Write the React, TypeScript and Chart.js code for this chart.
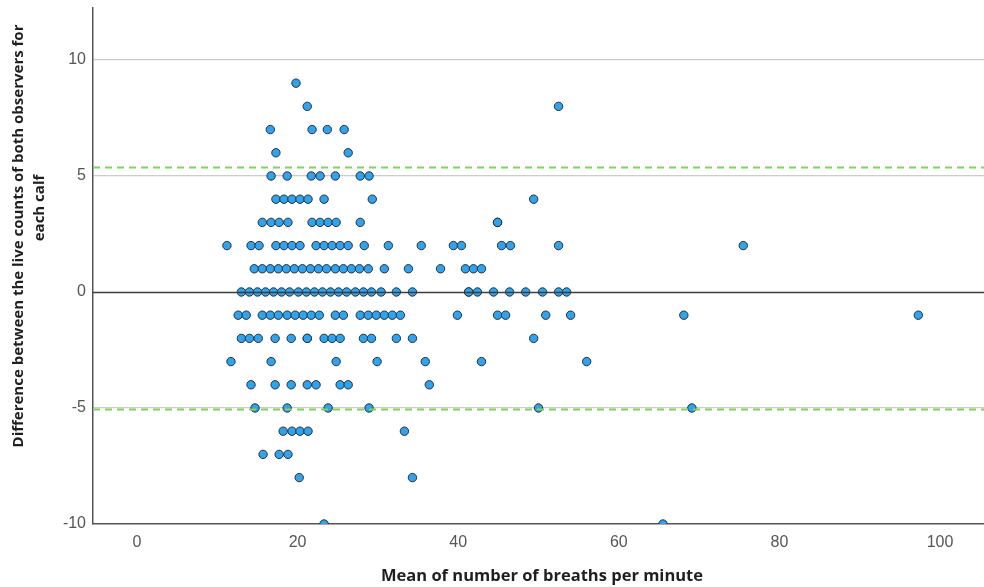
import { useEffect, useRef } from "react";
import { Chart, registerables } from "chart.js";

Chart.register(...registerables);

// Mean breaths per minute for each calf, grouped by the difference between the two observers' counts
const meansDiffPlus9 = [19.8];
const meansDiffPlus8 = [21.2, 52.5];
const meansDiffPlus7 = [16.6, 21.8, 23.7, 25.8];
const meansDiffPlus6 = [17.3, 26.3];
const meansDiffPlus5 = [16.7, 18.7, 21.7, 22.8, 24.7, 27.8, 28.9];
const meansDiffPlus4 = [17.3, 18.3, 19.3, 20.3, 21.3, 23.3, 29.3, 49.4];
const meansDiffPlus3 = [15.6, 16.7, 17.7, 18.8, 21.8, 22.8, 23.8, 24.8, 27.8, 44.9, 44.9];
const meansDiffPlus2 = [
  11.2, 14.2, 15.2, 17.3, 18.3, 19.3, 20.3, 22.3, 23.3, 24.3, 25.3, 26.3, 28.3, 31.3, 35.4, 39.4,
  40.4, 45.4, 46.5, 52.5, 75.5,
];
const meansDiffPlus1 = [
  14.6, 15.6, 16.6, 17.6, 18.6, 19.6, 20.6, 21.6, 22.6, 23.6, 24.7, 25.7, 26.7, 27.7, 28.8, 30.8,
  33.8, 37.8, 40.9, 41.9, 42.9,
];
const meansDiffZero = [
  13.0, 14.0, 15.0, 16.0, 17.0, 18.0, 19.0, 20.1, 21.1, 22.1, 23.1, 24.1, 25.1, 26.1, 27.2, 28.2,
  29.2, 30.4, 32.3, 34.3, 41.3, 41.3, 42.4, 44.4, 46.4, 48.4, 50.5, 52.5, 53.5,
];
const meansDiffMinus1 = [
  12.6, 13.6, 15.6, 16.6, 17.6, 18.7, 19.7, 20.7, 21.7, 22.7, 24.7, 25.7, 27.8, 28.8, 29.8, 30.8,
  31.8, 32.8, 39.9, 44.9, 45.9, 50.9, 54.0, 68.1, 97.3,
];
const meansDiffMinus2 = [
  13.0, 14.0, 15.1, 17.2, 19.2, 21.2, 21.2, 23.3, 24.3, 25.3, 28.2, 29.2, 32.3, 34.3, 49.4,
];
const meansDiffMinus3 = [11.7, 16.7, 24.8, 29.9, 35.9, 42.9, 56.0];
const meansDiffMinus4 = [14.2, 17.2, 19.2, 21.2, 22.3, 25.3, 26.3, 36.4];
const meansDiffMinus5 = [14.7, 18.7, 23.8, 28.9, 50.0, 69.1];
const meansDiffMinus6 = [18.2, 19.3, 20.3, 21.3, 33.3];
const meansDiffMinus7 = [15.7, 17.7, 18.8];
const meansDiffMinus8 = [20.2, 34.3];
const meansDiffMinus10 = [23.3, 65.5];

const differenceLevels = [9, 8, 7, 6, 5, 4, 3, 2, 1, 0, -1, -2, -3, -4, -5, -6, -7, -8, -10];
const meansByLevel = [
  meansDiffPlus9, meansDiffPlus8, meansDiffPlus7, meansDiffPlus6, meansDiffPlus5, meansDiffPlus4,
  meansDiffPlus3, meansDiffPlus2, meansDiffPlus1, meansDiffZero, meansDiffMinus1, meansDiffMinus2,
  meansDiffMinus3, meansDiffMinus4, meansDiffMinus5, meansDiffMinus6, meansDiffMinus7,
  meansDiffMinus8, meansDiffMinus10,
];

// Limits of agreement and the zero reference
const upperLimit = 5.39;
const lowerLimit = -5.03;
const zeroLine = 0;

const xTicks = [0, 20, 40, 60, 80, 100];
const yTicks = [-10, -5, 0, 5, 10];
const xRange = [-5.48, 105.48];
const yRange = [-10, 12.24];

const xTitle = "Mean of number of breaths per minute";
const yTitleLines = ["Difference between the live counts of both observers for", "each calf"];

const TICK_FONT = { family: "'Liberation Sans', Arial, sans-serif", size: 16 };
const X_TITLE_FONT = "bold 16.5px 'Open Sans', 'Liberation Sans', sans-serif";
const Y_TITLE_FONT = "bold 15px 'Open Sans', 'Liberation Sans', sans-serif";

const referenceLines = {
  id: "referenceLines",
  afterDatasetsDraw(chart: any) {
    const { ctx, chartArea, scales } = chart;
    const y = scales.y;
    const draw = (value: number, color: string, width: number, dash: number[]) => {
      const py = Math.round(y.getPixelForValue(value)) + 0.5;
      ctx.save();
      ctx.beginPath();
      ctx.setLineDash(dash);
      ctx.strokeStyle = color;
      ctx.lineWidth = width;
      ctx.moveTo(chartArea.left, py);
      ctx.lineTo(chartArea.right, py);
      ctx.stroke();
      ctx.restore();
    };
    draw(zeroLine, "#3c3c3c", 1.6, []);
    draw(upperLimit, "#7fd45c", 1.8, [7, 5]);
    draw(lowerLimit, "#7fd45c", 1.8, [7, 5]);
  },
  afterDraw(chart: any) {
    const { ctx } = chart;
    ctx.save();
    ctx.fillStyle = "#1f1f1f";
    ctx.textAlign = "center";
    ctx.textBaseline = "middle";
    ctx.font = X_TITLE_FONT;
    ctx.fillText(xTitle, 542, 576);
    ctx.font = Y_TITLE_FONT;
    ctx.translate(19, 236);
    ctx.rotate(-Math.PI / 2);
    ctx.fillText(yTitleLines[0], 0, 0);
    ctx.fillText(yTitleLines[1], 28, 21);
    ctx.restore();
  },
};

export default function App() {
  const canvasRef = useRef<HTMLCanvasElement | null>(null);

  useEffect(() => {
    const points: { x: number; y: number }[] = [];
    differenceLevels.forEach((diff, i) => {
      meansByLevel[i].forEach((m) => points.push({ x: m, y: diff }));
    });

    const chart = new Chart(canvasRef.current as HTMLCanvasElement, {
      type: "scatter",
      data: {
        datasets: [
          {
            data: points,
            backgroundColor: "#31a3ee",
            borderColor: "#22303a",
            borderWidth: 1,
            pointRadius: 4.2,
            pointHoverRadius: 4.2,
          },
        ],
      },
      options: {
        animation: false,
        responsive: false,
        events: [],
        layout: { autoPadding: false, padding: { top: 8, right: 0, left: 0, bottom: 0 } },
        plugins: { legend: { display: false }, tooltip: { enabled: false } },
        scales: {
          x: {
            type: "linear",
            min: xRange[0],
            max: xRange[1],
            afterBuildTicks: (s: any) => {
              s.ticks = xTicks.map((v) => ({ value: v }));
            },
            afterFit: (s: any) => {
              s.height = 63;
              s.paddingLeft = 0;
              s.paddingRight = 0;
            },
            grid: { display: false, drawTicks: false },
            border: { display: true, color: "#555555", width: 1.5 },
            ticks: { color: "#555555", font: TICK_FONT, padding: 9, maxRotation: 0 },
          },
          y: {
            type: "linear",
            min: yRange[0],
            max: yRange[1],
            afterBuildTicks: (s: any) => {
              s.ticks = yTicks.map((v) => ({ value: v }));
            },
            afterFit: (s: any) => {
              s.width = 93;
              s.paddingTop = 0;
              s.paddingBottom = 0;
            },
            grid: {
              drawTicks: false,
              color: (c: any) =>
                c.tick && (c.tick.value === 0 || c.tick.value === -10) ? "rgba(0,0,0,0)" : "#cccccc",
              lineWidth: 1.2,
            },
            border: { display: true, color: "#555555", width: 1.5 },
            ticks: { color: "#555555", font: TICK_FONT, padding: 7 },
          },
        },
      },
      plugins: [referenceLines],
    });
    return () => chart.destroy();
  }, []);

  return (
    <div style={{ position: "absolute", left: 0, top: 0, width: 984, height: 587, background: "#fff" }}>
      <canvas ref={canvasRef} width={984} height={587} style={{ display: "block" }} />
    </div>
  );
}
